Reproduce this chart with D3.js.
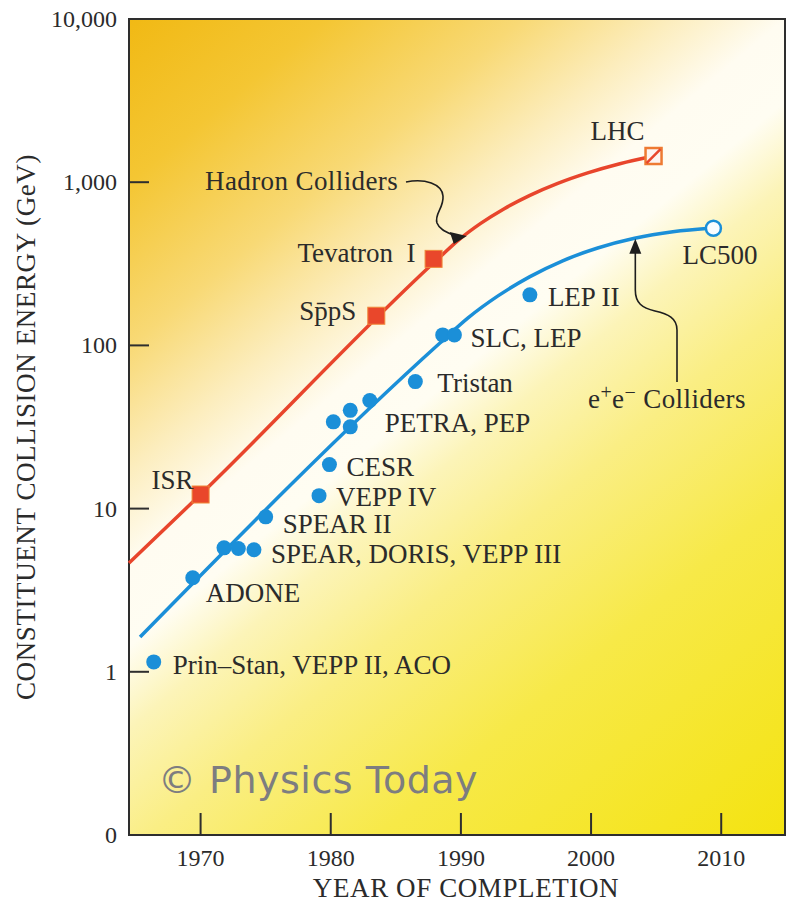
<!DOCTYPE html>
<html lang="en">
<meta charset="utf-8">

<head>
    <style>
        body {
            margin: 0;
            background: #fff;
        }
        text {
            font-family: "Liberation Serif", "DejaVu Serif", serif;
            fill: #2b2b2b;
        }
    </style>
    <script src="https://d3js.org/d3.v7.min.js"></script>
</head>

<body>
</body>
<script>
    // page size
    var svgWidth = 798;
    var svgHeight = 902;
    // plot frame
    var plotLeft = 129, plotRight = 785, plotTop = 19, plotBottom = 835;

    // hadron colliders (red squares)
    var hadronNames = ["ISR", "SppS", "Tevatron I", "LHC"];
    var hadronYears = [1970, 1983.5, 1987.9, 2004.8];
    var hadronEnergy = [12.2, 152, 339, 1447];

    // e+e- colliders (blue dots)
    var leptonYears = [1966.4, 1969.4, 1971.8, 1972.9, 1974.1, 1975.0, 1979.1, 1979.9,
        1980.2, 1981.5, 1981.5, 1983.0, 1986.5, 1988.6, 1989.5, 1995.3];
    var leptonEnergy = [1.15, 3.77, 5.75, 5.7, 5.6, 8.9, 12.0, 18.6,
        34, 40, 31.7, 46, 60, 116, 116, 204];
    // planned linear collider (open circle)
    var lcYear = 2009.4, lcEnergy = 522;

    // trend curves
    var hadronCurveYears = [1964.5, 1969.95, 1988.39, 1989.88, 1991.52, 1993.33, 1995.3,
        1997.44, 1999.74, 2002.21, 2004.83];
    var hadronCurveEnergy = [4.64, 12.1, 348, 446, 559, 688, 830, 983, 1140, 1298, 1447];
    var leptonCurveYears = [1965.35, 1988.39, 1990.55, 1992.85, 1995.27, 1997.82, 2000.51,
        2003.34, 2006.29, 2009.37];
    var leptonCurveEnergy = [1.634, 103.4, 147.4, 201, 263, 330, 395, 453, 497, 524];

    // axes
    var yearTicks = [1970, 1980, 1990, 2000, 2010];
    var energyTicks = [0.1, 1, 10, 100, 1000, 10000];
    var energyTickLabels = ["0", "1", "10", "100", "1,000", "10,000"];

    var red = "#e8452c", blue = "#1b8fd8";
    var labelSize = "27px";

    var svg = d3.select("body")
        .append("svg")
        .attr("width", svgWidth)
        .attr("height", svgHeight);

    var x = d3.scaleLinear().domain([1964.5, 2014.9]).range([plotLeft, plotRight]);
    var y = d3.scaleLog().domain([0.1, 10000]).range([plotBottom, plotTop]);

    var defs = svg.append("defs");

    // background gradient: gold top-left, white diagonal band, yellow bottom-right
    var grad = defs.append("linearGradient")
        .attr("id", "bg")
        .attr("gradientUnits", "userSpaceOnUse")
        .attr("x1", plotLeft).attr("y1", plotTop)
        .attr("x2", 800).attr("y2", 826);
    [[0, "#f1b914"], [0.12, "#f4c633"], [0.24, "#f8d975"], [0.33, "#fcedbd"],
        [0.4, "#fffcf1"], [0.46, "#fffdf2"], [0.52, "#fcf4b8"], [0.61, "#faee84"],
        [0.75, "#f7e948"], [1, "#f4e310"]]
        .forEach(function (s) {
            grad.append("stop").attr("offset", s[0]).attr("stop-color", s[1]);
        });

    svg.append("rect")
        .attr("x", plotLeft).attr("y", plotTop)
        .attr("width", plotRight - plotLeft).attr("height", plotBottom - plotTop)
        .attr("fill", "url(#bg)");

    // watermark
    svg.append("text")
        .attr("x", 158).attr("y", 793)
        .style("font-family", "'Comic Sans MS', 'DejaVu Sans', sans-serif")
        .style("font-size", "38px")
        .style("letter-spacing", "0.5px")
        .style("fill", "#7d7d80")
        .text("\u00a9 Physics Today");

    // frame
    svg.append("rect")
        .attr("x", plotLeft).attr("y", plotTop)
        .attr("width", plotRight - plotLeft).attr("height", plotBottom - plotTop)
        .attr("fill", "none")
        .attr("stroke", "#2e2e2e")
        .attr("stroke-width", 2);

    // x ticks (inward) and labels
    svg.selectAll(".xtick")
        .data(yearTicks)
        .enter().append("line")
        .attr("x1", function (d) { return x(d); })
        .attr("x2", function (d) { return x(d); })
        .attr("y1", plotBottom).attr("y2", plotBottom - 22)
        .attr("stroke", "#2e2e2e").attr("stroke-width", 2);

    svg.selectAll(".xlab")
        .data(yearTicks)
        .enter().append("text")
        .attr("x", function (d) { return x(d); })
        .attr("y", 866)
        .attr("text-anchor", "middle")
        .style("font-size", "24px")
        .text(function (d) { return d; });

    // y ticks (inward) and labels
    svg.selectAll(".ytick")
        .data(energyTicks.slice(1, 5))
        .enter().append("line")
        .attr("x1", plotLeft).attr("x2", plotLeft + 20)
        .attr("y1", function (d) { return y(d); })
        .attr("y2", function (d) { return y(d); })
        .attr("stroke", "#2e2e2e").attr("stroke-width", 2);

    svg.selectAll(".ylab")
        .data(energyTicks)
        .enter().append("text")
        .attr("x", 117)
        .attr("y", function (d) { return y(d) + 8; })
        .attr("text-anchor", "end")
        .style("font-size", "24px")
        .text(function (d, i) { return energyTickLabels[i]; });

    // axis titles
    svg.append("text")
        .attr("x", 466).attr("y", 897)
        .attr("text-anchor", "middle")
        .style("font-size", "27px")
        .style("letter-spacing", "0.6px")
        .text("YEAR OF COMPLETION");

    svg.append("text")
        .attr("transform", "translate(35,427) rotate(-90)")
        .attr("text-anchor", "middle")
        .style("font-size", "27px")
        .style("letter-spacing", "0.6px")
        .text("CONSTITUENT COLLISION ENERGY (GeV)");

    // curves
    var line = d3.line()
        .x(function (d) { return x(d[0]); })
        .y(function (d) { return y(d[1]); })
        .curve(d3.curveMonotoneX);

    svg.append("path")
        .datum(d3.zip(hadronCurveYears, hadronCurveEnergy))
        .attr("d", line)
        .attr("fill", "none").attr("stroke", red).attr("stroke-width", 3.5);

    svg.append("path")
        .datum(d3.zip(leptonCurveYears, leptonCurveEnergy))
        .attr("d", line)
        .attr("fill", "none").attr("stroke", blue).attr("stroke-width", 3.5);

    // hadron squares
    var sq = 17;
    var hadron = d3.zip(hadronYears, hadronEnergy, hadronNames);
    svg.selectAll(".hsq")
        .data(hadron.slice(0, 3))
        .enter().append("rect")
        .attr("x", function (d) { return x(d[0]) - sq / 2; })
        .attr("y", function (d) { return y(d[1]) - sq / 2; })
        .attr("width", sq).attr("height", sq)
        .attr("fill", "#e9472b")
        .attr("stroke", "#f0893a").attr("stroke-width", 1);

    // LHC open square with slash
    var lhc = hadron[3];
    svg.append("rect")
        .attr("x", x(lhc[0]) - 8).attr("y", y(lhc[1]) - 8)
        .attr("width", 16).attr("height", 16)
        .attr("fill", "#fdf3f0")
        .attr("stroke", "#ee7a32").attr("stroke-width", 2.5);
    svg.append("line")
        .attr("x1", x(lhc[0]) - 7).attr("y1", y(lhc[1]) + 7)
        .attr("x2", x(lhc[0]) + 7).attr("y2", y(lhc[1]) - 7)
        .attr("stroke", red).attr("stroke-width", 2.5);

    // lepton dots
    svg.selectAll(".ldot")
        .data(d3.zip(leptonYears, leptonEnergy))
        .enter().append("circle")
        .attr("cx", function (d) { return x(d[0]); })
        .attr("cy", function (d) { return y(d[1]); })
        .attr("r", 7.5)
        .attr("fill", blue);

    svg.append("circle")
        .attr("cx", x(lcYear)).attr("cy", y(lcEnergy))
        .attr("r", 7.5)
        .attr("fill", "#fbfdff")
        .attr("stroke", blue).attr("stroke-width", 2.5);

    // point labels: [text, year, energy, dx, dy, anchor]
    var labels = [
        ["Prin\u2013Stan, VEPP II, ACO", leptonYears[0], leptonEnergy[0], 19, 12, "start"],
        ["ADONE", leptonYears[1], leptonEnergy[1], 13, 24, "start"],
        ["SPEAR, DORIS, VEPP III", leptonYears[4], leptonEnergy[4], 17, 13, "start"],
        ["SPEAR II", leptonYears[5], leptonEnergy[5], 17, 16, "start"],
        ["VEPP IV", leptonYears[6], leptonEnergy[6], 17, 10, "start"],
        ["CESR", leptonYears[7], leptonEnergy[7], 17, 11, "start"],
        ["PETRA, PEP", leptonYears[11], leptonEnergy[11], 15, 32, "start"],
        ["Tristan", leptonYears[12], leptonEnergy[12], 22, 10, "start"],
        ["SLC, LEP", leptonYears[14], leptonEnergy[14], 16, 12, "start"],
        ["LEP II", leptonYears[15], leptonEnergy[15], 18, 11, "start"],
        ["LC500", lcYear, lcEnergy, -31, 36, "start"],
        ["ISR", hadronYears[0], hadronEnergy[0], -7, -6, "end"],
        ["Tevatron  I", hadronYears[2], hadronEnergy[2], -18, 3, "end"],
        ["LHC", hadronYears[3], hadronEnergy[3], -9, -16, "end"]
    ];
    svg.selectAll(".plab")
        .data(labels)
        .enter().append("text")
        .attr("x", function (d) { return x(d[1]) + d[3]; })
        .attr("y", function (d) { return y(d[2]) + d[4]; })
        .attr("text-anchor", function (d) { return d[5]; })
        .style("font-size", labelSize)
        .style("white-space", "pre")
        .text(function (d) { return d[0]; });

    // SppS with bar over the first p
    svg.append("text")
        .attr("x", x(hadronYears[1]) - 20).attr("y", y(hadronEnergy[1]) + 4)
        .attr("text-anchor", "end")
        .style("font-size", labelSize)
        .text("Sp\u0304pS");

    // annotations
    svg.append("text")
        .attr("x", 205).attr("y", 190)
        .style("font-size", labelSize)
        .style("letter-spacing", "0.4px")
        .text("Hadron Colliders");

    var ee = svg.append("text")
        .attr("x", 588).attr("y", 408)
        .style("font-size", labelSize)
        .style("letter-spacing", "0.4px");
    ee.append("tspan").text("e");
    ee.append("tspan").attr("dy", -9).style("font-size", "20px").text("+");
    ee.append("tspan").attr("dy", 9).text("e");
    ee.append("tspan").attr("dy", -9).style("font-size", "20px").text("\u2212");
    ee.append("tspan").attr("dy", 9).text(" Colliders");

    // hadron arrow, tip sits on the red curve
    var hx = x(1990.3), hy = y(462);
    svg.append("path")
        .attr("d", "M406,182 C425,178 442,184 443,196 C444,208 434,214 437,223 C440,231 450,233 " + (hx - 6) + "," + (hy + 1))
        .attr("fill", "none").attr("stroke", "#1e1e1e").attr("stroke-width", 1.6);
    svg.append("path")
        .attr("d", "M" + (hx + 2) + "," + (hy - 1) + " l-17,-4 l4,12 z")
        .attr("fill", "#1e1e1e");

    // e+e- arrow, tip sits on the blue curve
    var ex = x(2003.4), ey = y(456);
    svg.append("path")
        .attr("d", "M677,382 L677,330 C677,318 668,314 655,311 C642,308 " + ex + ",303 " + ex + ",290 L" + ex + "," + (ey + 12))
        .attr("fill", "none").attr("stroke", "#1e1e1e").attr("stroke-width", 1.6);
    svg.append("path")
        .attr("d", "M" + ex + "," + (ey + 1) + " l-6,15 l12,0 z")
        .attr("fill", "#1e1e1e");
</script>

</html>
